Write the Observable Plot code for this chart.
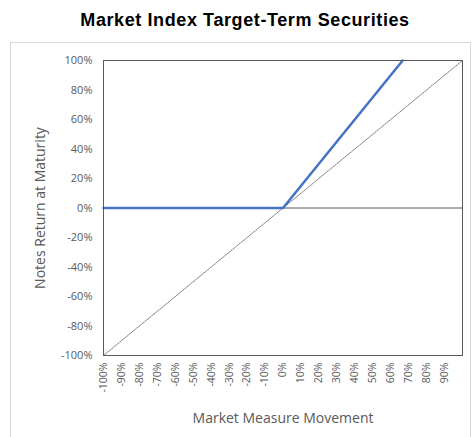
<!DOCTYPE html>
<html>
<head>
<meta charset="utf-8">
<script src="https://cdn.jsdelivr.net/npm/d3@7"></script>
<script src="https://cdn.jsdelivr.net/npm/@observablehq/plot@0.6"></script>
<style>
  html, body { margin: 0; padding: 0; background: #fff; }
  #wrap { position: relative; width: 475px; height: 437px; overflow: hidden; }
  #title { position: absolute; left: 0; top: 10px; width: 490px; text-align: center;
    font-family: "Liberation Sans", Arial, sans-serif; font-weight: bold; font-size: 18px;
    letter-spacing: 0.6px; color: #000; }
  #box { position: absolute; left: 10px; top: 42px; width: 459px; height: 410px; border: 1px solid #d9d9d9; }
  #chart { position: absolute; left: 0; top: 40px; }
</style>
</head>
<body>
<div id="wrap">
  <div id="title">Market Index Target-Term Securities</div>
  <div id="box"></div>
  <div id="chart"></div>
</div>
<script>
// Market measure movement (%) and notes return (%)
const payoffX = [-100, 0, 66.67];
const payoffY = [0, 0, 100];
// Reference 1:1 line
const refX = [-100, 100];
const refY = [-100, 100];
// Tick labels
const xTicks = [-100, -90, -80, -70, -60, -50, -40, -30, -20, -10, 0, 10, 20, 30, 40, 50, 60, 70, 80, 90];
const yTicks = [-100, -80, -60, -40, -20, 0, 20, 40, 60, 80, 100];
const xTitle = "Market Measure Movement";
const yTitle = "Notes Return at Maturity";

const payoff = payoffX.map((x, i) => ({x, y: payoffY[i]}));
const ref = refX.map((x, i) => ({x, y: refY[i]}));

const chart = Plot.plot({
  width: 475,
  height: 397,
  marginLeft: 103,
  marginRight: 13,
  marginTop: 20,
  marginBottom: 82,
  style: {fontFamily: "'Open Sans', sans-serif", fontSize: "10.5px", color: "#595959", background: "transparent"},
  x: {domain: [-100, 100]},
  y: {domain: [-100, 100]},
  marks: [
    Plot.axisX({ticks: xTicks, tickFormat: d => d + "%", tickRotate: -90, tickSize: 0, tickPadding: 7, label: null, fontSize: 10.5}),
    Plot.axisY({ticks: yTicks, tickFormat: d => d + "%", tickSize: 0, tickPadding: 11, label: null, fontSize: 11}),
    Plot.line(ref, {x: "x", y: "y", stroke: "#666666", strokeWidth: 0.9, strokeDasharray: "1.5,1.2"}),
    Plot.ruleY([0], {stroke: "#595959", strokeWidth: 1}),
    Plot.line(payoff, {x: "x", y: "y", stroke: "#4472C4", strokeWidth: 2.5}),
    Plot.frame({stroke: "#595959", strokeWidth: 1}),
    Plot.text([yTitle], {text: d => d, frameAnchor: "left", dx: -63, rotate: -90, textAnchor: "middle", lineAnchor: "middle", fontSize: 14, fill: "#595959"}),
    Plot.text([xTitle], {text: d => d, frameAnchor: "bottom", dy: 63, textAnchor: "middle", lineAnchor: "middle", fontSize: 14, fill: "#595959"})
  ]
});
document.getElementById("chart").appendChild(chart);
</script>
</body>
</html>
